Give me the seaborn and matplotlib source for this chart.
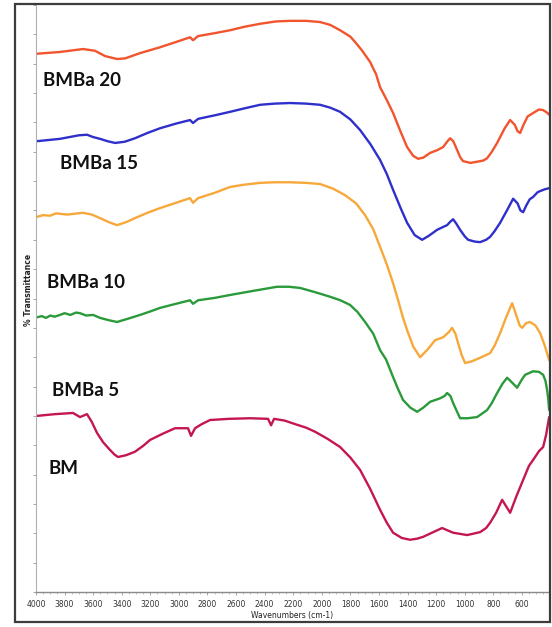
import numpy as np
import pandas as pd
import seaborn as sns
import matplotlib
matplotlib.use("Agg")
import matplotlib.pyplot as plt
from matplotlib.patches import Rectangle
from matplotlib.ticker import MultipleLocator

# FTIR spectra (wavenumber in cm-1, stacked % transmittance)
samples = ["BMBa 20", "BMBa 15", "BMBa 10", "BMBa 5", "BM"]
colors = ["#F2542D", "#2F2FCB", "#F7A83A", "#2A9A3A", "#C5174F"]

wn_bmba20 = [3993, 3832, 3671, 3587, 3517, 3433, 3377, 3272, 3132, 3020, 2922, 2901,
             2866, 2750, 2642, 2540, 2432, 2320, 2222, 2110, 2012, 1940, 1872, 1800,
             1767, 1720, 1662, 1620, 1592, 1545, 1501, 1450, 1403, 1360, 1326, 1290,
             1242, 1190, 1151, 1120, 1102, 1080, 1053, 1030, 1011, 960, 913, 870, 843,
             810, 773, 720, 682, 650, 630, 612, 590, 560, 521, 480, 451, 420, 409]
t_bmba20 = [91.7, 92.0, 92.5, 92.2, 91.3, 90.8, 90.9, 91.8, 92.8, 93.7, 94.5, 94.0,
            94.7, 95.2, 95.7, 96.3, 96.8, 97.2, 97.3, 97.3, 97.1, 96.6, 95.7, 94.6,
            93.7, 92.3, 90.3, 88.2, 86.0, 83.8, 81.6, 78.5, 75.8, 74.3, 73.8, 74.0,
            74.8, 75.3, 75.8, 76.8, 77.3, 76.8, 75.3, 74.0, 73.4, 73.1, 73.3, 73.5, 73.9,
            75.0, 76.5, 79.0, 80.4, 79.6, 78.5, 78.2, 79.5, 81.0, 81.6, 82.2, 82.1, 81.6, 81.3]

wn_bmba15 = [3993, 3832, 3700, 3643, 3600, 3552, 3500, 3447, 3380, 3307, 3220, 3132,
             3020, 2922, 2901, 2866, 2750, 2642, 2540, 2432, 2330, 2222, 2110, 2012,
             1940, 1872, 1800, 1732, 1660, 1592, 1545, 1501, 1450, 1403, 1350, 1298,
             1250, 1193, 1150, 1123, 1100, 1081, 1060, 1032, 1000, 976, 930, 892, 850,
             822, 790, 752, 700, 661, 630, 610, 591, 570, 545, 521, 490, 472, 440, 409]
t_bmba15 = [76.8, 77.2, 77.8, 77.9, 77.5, 77.2, 76.8, 76.5, 76.7, 77.3, 78.2, 79.0,
            79.8, 80.4, 79.9, 80.6, 81.2, 81.8, 82.4, 83.0, 83.2, 83.3, 83.2, 83.0,
            82.5, 81.8, 80.5, 78.7, 76.3, 73.6, 71.2, 68.5, 65.5, 62.9, 60.8, 60.0,
            60.7, 61.7, 62.2, 62.5, 63.1, 63.5, 62.8, 61.7, 60.6, 60.0, 59.7, 59.6, 60.0,
            60.5, 61.5, 62.9, 65.2, 67.0, 66.2, 65.0, 64.7, 65.8, 66.9, 67.3, 68.1, 68.3,
            68.6, 68.8]

wn_bmba10 = [3993, 3950, 3902, 3860, 3780, 3671, 3610, 3552, 3490, 3433, 3370, 3307,
             3220, 3132, 3020, 2922, 2901, 2866, 2750, 2642, 2540, 2432, 2330, 2222,
             2110, 2012, 1920, 1837, 1760, 1697, 1640, 1592, 1545, 1501, 1466, 1435,
             1403, 1360, 1312, 1260, 1207, 1151, 1110, 1088, 1065, 1046, 1020, 997, 950,
             892, 822, 790, 752, 710, 668, 640, 615, 598, 570, 542, 505, 472, 440, 409]
t_bmba10 = [63.9, 64.2, 64.1, 64.5, 64.3, 64.6, 64.3, 63.7, 63.0, 62.5, 63.0, 63.7,
            64.6, 65.4, 66.3, 67.1, 66.3, 67.1, 68.0, 69.0, 69.4, 69.7, 69.8, 69.8,
            69.7, 69.5, 68.7, 67.6, 66.2, 64.2, 61.8, 58.8, 55.8, 52.6, 49.7, 47.0,
            44.6, 41.8, 40.0, 41.3, 42.9, 43.4, 44.3, 45.0, 44.0, 42.4, 40.3, 39.0, 39.3,
            39.9, 40.7, 42.0, 44.1, 46.8, 49.2, 47.2, 45.4, 45.0, 45.8, 46.0, 45.4, 44.1,
            42.0, 39.5]

wn_bmba5 = [3993, 3960, 3930, 3900, 3870, 3832, 3800, 3760, 3720, 3692, 3650, 3600,
            3552, 3490, 3433, 3350, 3272, 3200, 3132, 3020, 2922, 2901, 2866, 2750,
            2642, 2480, 2313, 2230, 2152, 2050, 1942, 1870, 1802, 1750, 1697, 1640,
            1592, 1550, 1501, 1465, 1431, 1380, 1333, 1290, 1242, 1172, 1140, 1123,
            1100, 1081, 1055, 1032, 980, 913, 843, 810, 773, 735, 703, 665, 633, 600,
            577, 521, 480, 451, 435, 423, 415, 409]
t_bmba5 = [46.8, 47.0, 46.7, 47.1, 46.9, 47.2, 47.5, 47.2, 47.6, 47.5, 47.1, 47.2,
           46.7, 46.3, 46.0, 46.6, 47.2, 47.8, 48.4, 49.1, 49.7, 49.1, 49.7, 50.1,
           50.6, 51.3, 52.0, 52.0, 51.8, 51.1, 50.3, 49.7, 48.9, 47.7, 46.0, 44.0,
           41.2, 39.6, 36.6, 34.5, 32.7, 31.4, 30.7, 31.4, 32.4, 33.0, 33.4, 33.9,
           33.4, 32.2, 30.8, 29.6, 29.6, 29.8, 31.0, 32.2, 33.9, 35.5, 36.5, 35.6, 34.8,
           36.2, 37.0, 37.6, 37.5, 37.0, 36.0, 34.4, 32.8, 31.0]

wn_bm = [3993, 3867, 3741, 3692, 3643, 3610, 3573, 3530, 3482, 3450, 3426, 3370,
         3307, 3250, 3202, 3110, 3027, 2936, 2915, 2887, 2840, 2782, 2650, 2502,
         2376, 2355, 2334, 2260, 2187, 2110, 2047, 1960, 1872, 1800, 1732, 1660,
         1592, 1545, 1501, 1440, 1382, 1330, 1291, 1220, 1158, 1120, 1081, 983, 892,
         850, 822, 780, 738, 710, 682, 640, 591, 550, 521, 480, 451, 430, 409]
t_bm = [30.0, 30.3, 30.5, 29.8, 30.3, 29.0, 27.1, 25.5, 24.2, 23.4, 23.0, 23.3,
        23.9, 24.9, 25.9, 27.0, 27.9, 27.9, 26.6, 27.9, 28.6, 29.3, 29.5, 29.6,
        29.5, 28.4, 29.5, 29.2, 28.6, 28.0, 27.3, 26.1, 24.7, 22.9, 20.8, 17.5,
        14.0, 11.8, 10.1, 9.2, 8.9, 9.1, 9.4, 10.2, 10.9, 10.5, 10.1, 9.7, 10.2,
        10.9, 11.8, 13.5, 15.7, 14.6, 13.5, 16.2, 19.1, 21.5, 22.5, 24.0, 24.7, 26.8, 29.8]

x_ticks = [4000, 3800, 3600, 3400, 3200, 3000, 2800, 2600, 2400, 2200, 2000,
           1800, 1600, 1400, 1200, 1000, 800, 600]

series = [wn_bmba20, wn_bmba15, wn_bmba10, wn_bmba5, wn_bm]
values = [t_bmba20, t_bmba15, t_bmba10, t_bmba5, t_bm]
df = pd.concat(
    [pd.DataFrame({"wn": w, "T": t, "sample": s}) for w, t, s in zip(series, values, samples)],
    ignore_index=True,
)

sns.set_style("white")
plt.rcParams["font.family"] = ["DejaVu Sans"]

fig = plt.figure(figsize=(5.52, 6.27), dpi=100)
ax = fig.add_axes([36 / 552, 1 - 592 / 627, (549 - 36) / 552, (592 - 5) / 627])

sns.lineplot(data=df, x="wn", y="T", hue="sample", palette=dict(zip(samples, colors)),
             estimator=None, sort=False, legend=False, linewidth=1.7, ax=ax)
for line in ax.get_lines():
    line.set_solid_joinstyle("round")
    line.set_solid_capstyle("round")

ax.set_xlim(4000, 410)
ax.set_ylim(0, 100)
ax.set_xticks(x_ticks)
ax.set_xticklabels([str(v) for v in x_ticks], fontsize=5.5, color="#333333")
ax.xaxis.set_minor_locator(MultipleLocator(50))
ax.yaxis.set_major_locator(MultipleLocator(5))
ax.set_yticklabels([])
ax.tick_params(axis="x", which="major", length=2.5, width=0.6, color="#999999", pad=3)
ax.tick_params(axis="x", which="minor", length=1.5, width=0.5, color="#aaaaaa")
ax.tick_params(axis="y", which="major", length=2, width=0.6, color="#999999", direction="out")
ax.tick_params(left=True, bottom=True, which="both")

for side in ("top", "right"):
    ax.spines[side].set_visible(False)
ax.spines["left"].set_color("#b0b0b0")
ax.spines["left"].set_linewidth(0.8)
ax.spines["bottom"].set_color("#8a8a8a")
ax.spines["bottom"].set_linewidth(1.0)

ax.set_xlabel("Wavenumbers (cm-1)", fontsize=5.5, color="#222222", labelpad=2)
ax.set_ylabel("% Transmittance", fontsize=5.5, color="#222222", fontweight="bold")
ax.yaxis.set_label_coords(-0.006, 0.514)

# sample names beside each trace
label_pos = [(43, 80), (60, 163), (47, 283), (52, 390), (48, 468)]
for name, (px, py) in zip(samples, label_pos):
    fig.text(px / 552, 1 - py / 627, name, fontsize=13.5, fontweight="bold",
             family=["Lato", "DejaVu Sans"], color="#111111", ha="left", va="center")

# outer frame around the plot
fig.patches.append(Rectangle((15 / 552, 1 - 622 / 627), (550 - 15) / 552, (622 - 4) / 627,
                             transform=fig.transFigure, fill=False,
                             edgecolor="#3c3c3c", linewidth=1.6))

fig.savefig("out.png", dpi=100)
